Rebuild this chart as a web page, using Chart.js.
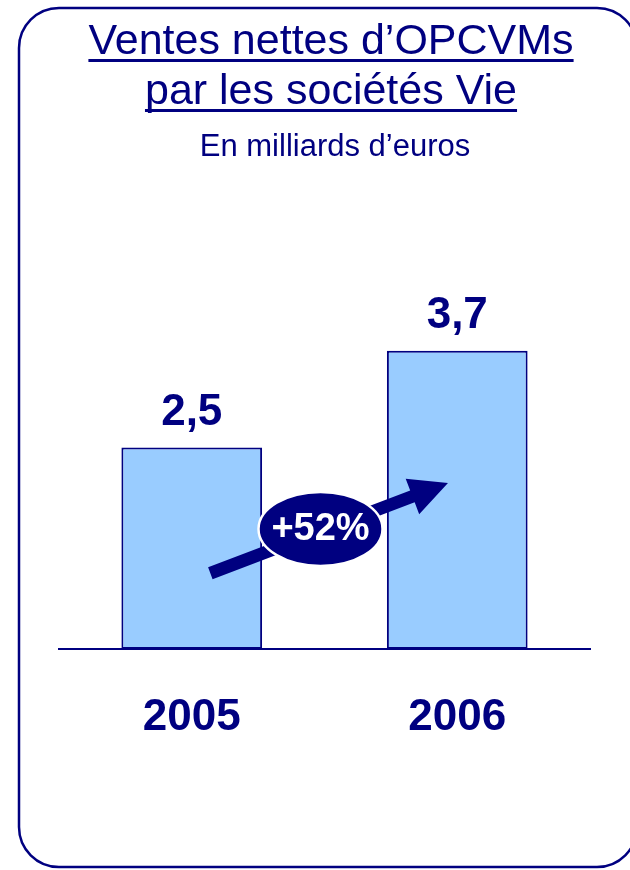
<!DOCTYPE html>
<html>
<head>
<meta charset="utf-8">
<script src="https://cdn.jsdelivr.net/npm/chart.js@4/dist/chart.umd.min.js"></script>
<style>
  html, body { margin: 0; padding: 0; background: #fff; }
</style>
</head>
<body>
<canvas id="myChart" width="630" height="870"></canvas>
<script>
// data
const years = ['2005', '2006'];
const ventes = [2.5, 3.7];
const valueLabels = ['2,5', '3,7'];
const growthLabel = '+52%';
const titleLines = ['Ventes nettes d\u2019OPCVMs', 'par les soci\u00e9t\u00e9s Vie'];
const subtitle = 'En milliards d\u2019euros';

// growth arrow, in (category index, value) space
const arrowFrom = [0.07, 0.94];
const arrowTo = [0.965, 2.06];
const badgeAt = [0.485, 1.49];

const navy = '#000080';
const FONT = '"Liberation Sans", Arial, Helvetica, sans-serif';

function roundRect(ctx, x, y, w, h, r) {
    ctx.beginPath();
    ctx.moveTo(x + r, y);
    ctx.lineTo(x + w - r, y);
    ctx.arcTo(x + w, y, x + w, y + r, r);
    ctx.lineTo(x + w, y + h - r);
    ctx.arcTo(x + w, y + h, x + w - r, y + h, r);
    ctx.lineTo(x + r, y + h);
    ctx.arcTo(x, y + h, x, y + h - r, r);
    ctx.lineTo(x, y + r);
    ctx.arcTo(x, y, x + r, y, r);
    ctx.closePath();
}

const decor = {
    id: 'decor',
    beforeDraw(chart) {
        const ctx = chart.ctx;
        ctx.save();
        ctx.fillStyle = '#fff';
        ctx.fillRect(0, 0, chart.width, chart.height);

        // frame
        ctx.strokeStyle = navy;
        ctx.lineWidth = 2.5;
        roundRect(ctx, 19, 8, 618, 859, 40);
        ctx.stroke();

        // title, underlined
        ctx.fillStyle = navy;
        ctx.textAlign = 'center';
        ctx.textBaseline = 'alphabetic';
        ctx.font = '43px ' + FONT;
        const cx = 331;
        const baselines = [54, 104];
        titleLines.forEach((t, i) => {
            ctx.fillText(t, cx, baselines[i]);
            const w = ctx.measureText(t).width;
            ctx.fillRect(cx - w / 2, baselines[i] + 5, w, 3);
        });

        ctx.font = '31px ' + FONT;
        ctx.fillText(subtitle, 335, 156);
        ctx.restore();
    },
    afterDatasetsDraw(chart) {
        const ctx = chart.ctx;
        const xs = chart.scales.x, ys = chart.scales.y;
        ctx.save();

        // value labels above bars
        ctx.fillStyle = navy;
        ctx.textAlign = 'center';
        ctx.textBaseline = 'alphabetic';
        ctx.font = 'bold 44px ' + FONT;
        chart.getDatasetMeta(0).data.forEach((bar, i) => {
            ctx.fillText(valueLabels[i], bar.x, bar.y - 23);
        });

        // arrow
        const x0 = xs.getPixelForValue(arrowFrom[0]), y0 = ys.getPixelForValue(arrowFrom[1]);
        const x1 = xs.getPixelForValue(arrowTo[0]), y1 = ys.getPixelForValue(arrowTo[1]);
        const len = Math.hypot(x1 - x0, y1 - y0);
        const ux = (x1 - x0) / len, uy = (y1 - y0) / len;
        const nx = -uy, ny = ux;
        const sw = 6.3, hw = 19, hl = 38;
        const bx = x1 - ux * hl, by = y1 - uy * hl;
        ctx.beginPath();
        ctx.moveTo(x0 + nx * sw, y0 + ny * sw);
        ctx.lineTo(bx + nx * sw, by + ny * sw);
        ctx.lineTo(bx + nx * hw, by + ny * hw);
        ctx.lineTo(x1, y1);
        ctx.lineTo(bx - nx * hw, by - ny * hw);
        ctx.lineTo(bx - nx * sw, by - ny * sw);
        ctx.lineTo(x0 - nx * sw, y0 - ny * sw);
        ctx.closePath();
        ctx.fill();

        // growth badge
        const ex = xs.getPixelForValue(badgeAt[0]), ey = ys.getPixelForValue(badgeAt[1]);
        ctx.beginPath();
        ctx.ellipse(ex, ey, 62, 37, 0, 0, Math.PI * 2);
        ctx.fillStyle = navy;
        ctx.fill();
        ctx.strokeStyle = '#fff';
        ctx.lineWidth = 2.5;
        ctx.stroke();
        ctx.fillStyle = '#fff';
        ctx.font = 'bold 38px ' + FONT;
        ctx.textBaseline = 'middle';
        ctx.fillText(growthLabel, ex, ey + 1);
        ctx.restore();
    }
};

const ctx = document.getElementById('myChart').getContext('2d');
const chart = new Chart(ctx, {
    type: 'bar',
    data: {
        labels: years,
        datasets: [{
            data: ventes,
            backgroundColor: '#99CCFF',
            borderColor: navy,
            borderWidth: 2,
            borderSkipped: false,
            categoryPercentage: 1,
            barPercentage: 0.53
        }]
    },
    options: {
        responsive: false,
        animation: false,
        devicePixelRatio: 1,
        layout: { padding: { left: 59, right: 40, top: 246, bottom: 0 } },
        plugins: {
            legend: { display: false },
            title: { display: false },
            tooltip: { enabled: false }
        },
        scales: {
            x: {
                grid: { display: false, drawTicks: false },
                border: { color: navy, width: 2 },
                ticks: {
                    color: navy,
                    padding: 42,
                    font: { family: FONT, size: 44, weight: 'bold' }
                },
                afterFit: s => { s.height = 221; }
            },
            y: { display: false, min: 0, max: 5 }
        }
    },
    plugins: [decor]
});
</script>
</body>
</html>
